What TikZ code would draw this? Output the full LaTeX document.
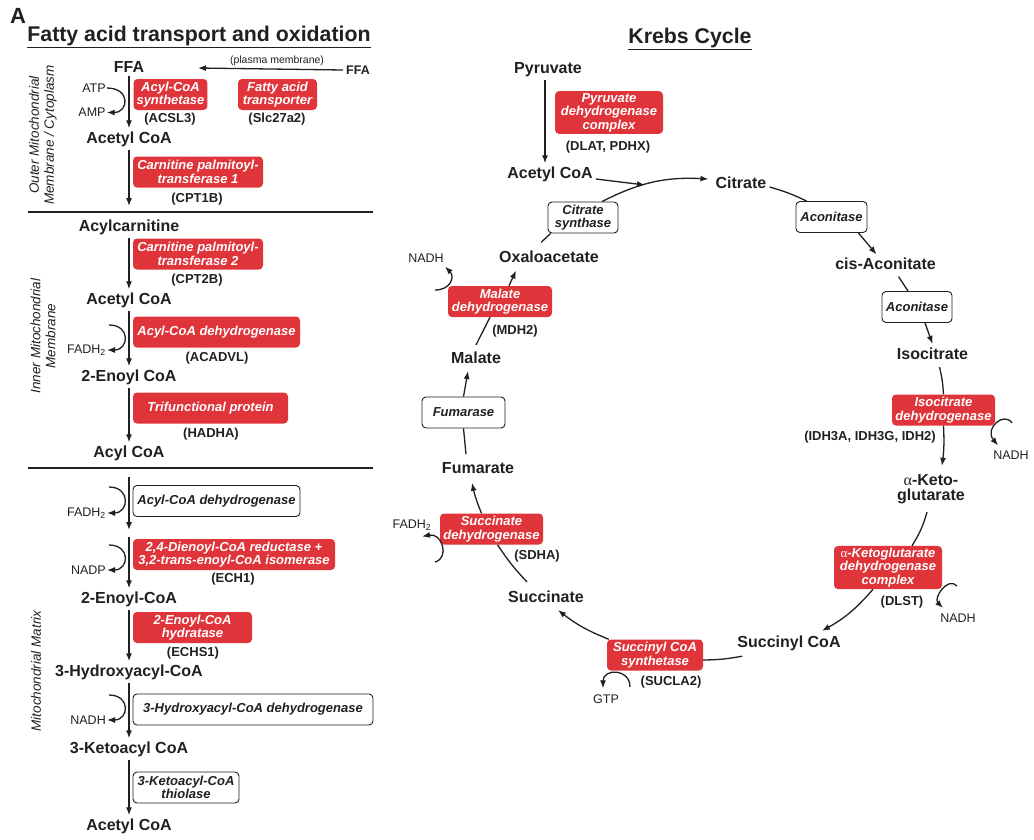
\documentclass[tikz,border=0pt]{standalone}
\usepackage{fontspec}
\setmainfont{Liberation Sans}
\newfontfamily\greekfont{Liberation Serif}
\newcommand{\alphaup}{{\greekfont\mdseries\upshape α}}
\usetikzlibrary{arrows.meta}

\begin{document}
\begin{tikzpicture}[x=1pt,y=-1pt,
    metab/.style={font=\fontsize{16}{15.5}\selectfont\bfseries,text=ink,inner sep=3pt,align=center},
    enz/.style={rounded corners=4pt,font=\fontsize{13}{13.5}\selectfont\bfseries\itshape,align=center,
      inner xsep=3pt,inner ysep=2pt,minimum height=31pt},
    redenz/.style={enz,fill=enzred,text=white},
    whiteenz/.style={enz,draw=ink,line width=0.9pt,fill=white,text=ink},
    gene/.style={font=\fontsize{13}{13}\selectfont\bfseries,text=ink,inner sep=1pt},
    cofac/.style={font=\fontsize{12.5}{12.5}\selectfont,text=ink,inner sep=1pt},
    region/.style={font=\fontsize{13.5}{15}\selectfont\itshape,text=ink,rotate=90,align=center},
    heading/.style={font=\fontsize{21.3}{22}\selectfont\bfseries,text=ink,inner sep=0pt},
    link/.style={draw=ink,line width=1.3pt},
    rxn/.style={link,-{Latex[length=8pt,width=6pt]}},
    sep/.style={draw=ink,line width=2.4pt},
  ]
  \definecolor{ink}{RGB}{35,31,32}
  \definecolor{enzred}{RGB}{222,52,58}
  \useasboundingbox (0,0) rectangle (1034,839);

  % headings
  \node[heading,font=\fontsize{22}{22}\selectfont\bfseries] (panel) at (18,16) {A};
  \node[heading] (fatitle) at (199,37) {\underline{Fatty acid transport and oxidation}};
  \node[heading] (krtitle) at (690,38.5) {\underline{Krebs Cycle}};

  % ---- fatty acid transport, outer membrane
  \node[metab] (ffa1) at (129,67) {FFA};
  \node[metab,font=\fontsize{12.5}{12.5}\selectfont\bfseries] (ffa2) at (358,70) {FFA};
  \node[cofac,font=\fontsize{10.5}{10.5}\selectfont] (pm) at (277,61) {(plasma membrane)};
  \coordinate (ffaend) at (198,68);
  \draw[rxn] (ffa2.west) -- (ffaend);

  \node[metab] (acoa1) at (129,139) {Acetyl CoA};
  \draw[rxn] (ffa1) -- (acoa1);
  \node[cofac] (atp) at (94,88) {ATP};
  \node[cofac] (amp) at (92,112.5) {AMP};
  \draw[rxn] (atp.east) .. controls +(24,0) and +(22,0) .. (amp.east);
  \node[redenz,minimum width=73pt] (acsl) at (170.5,94.5) {Acyl-CoA\\synthetase};
  \node[gene] (acsl3) at (170,119) {(ACSL3)};
  \node[redenz,minimum width=79pt] (fatp) at (277.5,94.5) {Fatty acid\\transporter};
  \node[gene] (slc) at (277,119) {(Slc27a2)};

  \coordinate (omm) at (129,206);
  \draw[rxn] (acoa1) -- (omm);
  \node[redenz,minimum width=130pt] (cpt1) at (198,172) {Carnitine palmitoyl-\\transferase 1};
  \node[gene] (cpt1b) at (197,199) {(CPT1B)};
  \draw[sep] (28,212) -- (373,212);
  \node[region] (outer) at (43,135) {Outer Mitochondrial\\Membrane / Cytoplasm};

  % ---- inner membrane
  \node[metab] (acylc) at (129,227) {Acylcarnitine};
  \node[metab] (acoa2) at (129,300) {Acetyl CoA};
  \draw[rxn] (acylc) -- (acoa2);
  \node[redenz,minimum width=130pt] (cpt2) at (198,254) {Carnitine palmitoyl-\\transferase 2};
  \node[gene] (cpt2b) at (197,280) {(CPT2B)};

  \node[metab] (enoyl1) at (129,377) {2-Enoyl CoA};
  \draw[rxn] (acoa2) -- (enoyl1);
  \coordinate (fad1) at (109,325);
  \node[cofac,anchor=east] (fadh1) at (107,350) {FADH\textsubscript{2}};
  \draw[rxn] (fad1) .. controls +(22,0) and +(22,0) .. (fadh1.east);
  \node[redenz,minimum width=167pt] (acad1) at (216.5,332) {Acyl-CoA dehydrogenase};
  \node[gene] (acadvl) at (217,358) {(ACADVL)};

  \node[metab] (acyl) at (129,453) {Acyl CoA};
  \draw[rxn] (enoyl1) -- (acyl);
  \node[redenz,minimum width=155pt] (tfp) at (210.5,408) {Trifunctional protein};
  \node[gene] (hadha) at (211,434) {(HADHA)};
  \draw[sep] (28,468) -- (373,468);
  \node[region] (inner) at (43,336) {Inner Mitochondrial\\Membrane};

  % ---- matrix
  \coordinate (imm) at (129,477);
  \coordinate (dien) at (129,530);
  \coordinate (dienb) at (129,537);
  \draw[rxn] (imm) -- (dien);
  \coordinate (fad2) at (109,487);
  \node[cofac,anchor=east] (fadh2) at (107,513) {FADH\textsubscript{2}};
  \draw[rxn] (fad2) .. controls +(22,0) and +(22,0) .. (fadh2.east);
  \node[whiteenz,minimum width=167pt] (acad2) at (216.5,501) {Acyl-CoA dehydrogenase};

  \node[metab] (enoyl2) at (129,599) {2-Enoyl-CoA};
  \draw[rxn] (dienb) -- (enoyl2);
  \coordinate (nadp1) at (109,545);
  \node[cofac,anchor=east] (nadp) at (107,570) {NADP};
  \draw[rxn] (nadp1) .. controls +(22,0) and +(22,0) .. (nadp.east);
  \node[redenz,minimum width=202pt] (decr) at (234,554.5) {2,4-Dienoyl-CoA reductase +\\3,2-trans-enoyl-CoA isomerase};
  \node[gene] (ech1) at (233,579) {(ECH1)};

  \node[metab] (hydroxy) at (129,672) {3-Hydroxyacyl-CoA};
  \draw[rxn] (enoyl2) -- (hydroxy);
  \node[redenz,minimum width=119pt] (echs) at (192.5,627.5) {2-Enoyl-CoA\\hydratase};
  \node[gene] (echs1) at (193,653) {(ECHS1)};

  \node[metab] (keto) at (129,749) {3-Ketoacyl CoA};
  \draw[rxn] (hydroxy) -- (keto);
  \coordinate (nad1) at (109,695);
  \node[cofac,anchor=east] (nadh1) at (107,720) {NADH};
  \draw[rxn] (nad1) .. controls +(22,0) and +(22,0) .. (nadh1.east);
  \node[whiteenz,minimum width=240pt] (hadh) at (253,709.5) {3-Hydroxyacyl-CoA dehydrogenase};

  \node[metab] (acoa3) at (129,826) {Acetyl CoA};
  \draw[rxn] (keto) -- (acoa3);
  \node[whiteenz,minimum width=106pt] (thiol) at (186,787.5) {3-Ketoacyl-CoA\\thiolase};
  \node[region] (matrix) at (36,671) {Mitochondrial Matrix};

  % ---- Krebs cycle
  \node[metab] (pyr) at (548,70) {Pyruvate};
  \node[metab] (acoa4) at (550,174) {Acetyl CoA};
  \draw[rxn] ([xshift=-3pt]pyr.south) -- ([xshift=-5pt]acoa4.north);
  \node[redenz,minimum width=108pt] (pdh) at (609,112.5) {Pyruvate\\dehydrogenase\\complex};
  \node[gene] (dlat) at (608,147.5) {(DLAT, PDHX)};

  \node[metab] (cit) at (741,183) {Citrate};
  \node[whiteenz,minimum width=70pt] (cs) at (583,217.5) {Citrate\\synthase};
  \node[metab] (oaa) at (549,256.5) {Oxaloacetate};
  \coordinate (join) at (645,185);
  \draw[rxn] ([yshift=-5pt]acoa4.east) -- (join);
  \draw[link] ([xshift=-8pt,yshift=5pt]oaa.north) -- ([xshift=3pt]cs.south west);
  \draw[rxn] ([xshift=19pt]cs.north) to[bend left=15] ([xshift=-4pt,yshift=4pt]cit.west);

  \node[whiteenz,minimum width=71pt] (aco1) at (831.5,217) {Aconitase};
  \node[metab] (cisaco) at (885.5,263.5) {cis-Aconitate};
  \draw[link] ([yshift=-4pt]cit.east) to[bend left=5] ([xshift=11pt]aco1.north west);
  \draw[rxn] ([xshift=-9pt]aco1.south east) -- ([xshift=-9pt]cisaco.north);

  \node[whiteenz,minimum width=70pt] (aco2) at (917,307) {Aconitase};
  \node[metab] (isocit) at (932.5,354) {Isocitrate};
  \draw[link] ([xshift=13pt,yshift=-4pt]cisaco.south) -- ([xshift=-9pt]aco2.north);
  \draw[rxn] ([xshift=8pt]aco2.south) -- ([yshift=1pt]isocit.north);

  \node[redenz,minimum width=103pt] (idh) at (943.5,410) {Isocitrate\\dehydrogenase};
  \node[gene] (idhg) at (870,437.5) {(IDH3A, IDH3G, IDH2)};
  \node[metab] (akg) at (931,489) {\alphaup-Keto-\\glutarate};
  \draw[link] ([xshift=7pt,yshift=-4pt]isocit.south) to[bend left=5] (idh.north);
  \draw[rxn] (idh.south) to[bend left=5] ([xshift=11pt,yshift=5pt]akg.north);
  \node[cofac] (nadhi) at (1011,455) {NADH};
  \coordinate (idhnad) at (1012,423);
  \draw[rxn] (idhnad) .. controls +(-8,-12) and +(-14,-17) .. ([xshift=6pt,yshift=4pt]nadhi.north west);

  \node[redenz,minimum width=108pt] (akgdh) at (888,567.5) {\alphaup-Ketoglutarate\\dehydrogenase\\complex};
  \node[gene] (dlst) at (902,602) {(DLST)};
  \node[metab] (succoa) at (789,643.5) {Succinyl CoA};
  \draw[link] ([xshift=-4pt,yshift=-5pt]akg.south) to[bend left=8] ([xshift=24pt]akgdh.north);
  \draw[rxn] ([xshift=-15pt]akgdh.south) to[bend left=10] ([xshift=33pt,yshift=2pt]succoa.north);
  \node[cofac] (nadhk) at (958,618) {NADH};
  \coordinate (akgnad) at (957,586);
  \draw[rxn] (akgnad) .. controls +(-9,-10) and +(-10,-10) .. ([xshift=4pt,yshift=4.5pt]nadhk.north west);

  \node[redenz,minimum width=96pt] (scs) at (655,655) {Succinyl CoA\\synthetase};
  \node[gene] (sucla) at (671,682) {(SUCLA2)};
  \draw[link] ([xshift=8pt,yshift=-2pt]succoa.south west) to[bend left=5] ([yshift=-5pt]scs.east);
  \node[cofac] (gtp) at (606,699) {GTP};
  \coordinate (scsgtp) at (630,687);
  \draw[rxn] (scsgtp) .. controls +(0,-19) and +(0,-20) .. ([xshift=-3pt,yshift=5pt]gtp.north);

  \node[metab] (succ) at (546,597) {Succinate};
  \draw[rxn] ([xshift=2pt]scs.north west) to[bend left=8] ([xshift=12pt,yshift=-4pt]succ.south);
  \node[redenz,minimum width=103pt] (sdh) at (491.5,529) {Succinate\\dehydrogenase};
  \node[gene] (sdha) at (537,556) {(SDHA)};
  \draw[link] ([xshift=-19pt,yshift=6pt]succ.north) to[bend left=5] ([xshift=6pt]sdh.south);
  \node[cofac] (fadhs) at (412,525) {FADH\textsubscript{2}};
  \coordinate (sdhfad) at (435,562);
  \draw[rxn] (sdhfad) .. controls +(15,-4) and +(20,-4) .. ([xshift=10pt,yshift=-5pt]fadhs.south);

  \node[metab] (fum) at (478,468) {Fumarate};
  \draw[rxn] ([xshift=-10pt]sdh.north) to[bend left=5] ([xshift=-6pt,yshift=-6pt]fum.south);
  \node[whiteenz,minimum width=83pt] (fumase) at (463.5,412.5) {Fumarase};
  \draw[link] ([xshift=-12pt,yshift=5pt]fum.north) -- (fumase.south);
  \node[metab] (mal) at (476,358) {Malate};
  \draw[rxn] (fumase.north) -- ([xshift=-8pt,yshift=-4pt]mal.south);

  \node[redenz,minimum width=104pt] (mdh) at (500,301.5) {Malate\\dehydrogenase};
  \node[gene] (mdh2) at (515,331) {(MDH2)};
  \draw[link] ([yshift=4pt]mal.north) -- ([xshift=-10pt]mdh.south);
  \draw[rxn] ([xshift=9pt]mdh.north) -- ([xshift=-33pt,yshift=-5pt]oaa.south);
  \node[cofac] (nadhm) at (426,258) {NADH};
  \coordinate (mdhnad) at (435,290);
  \draw[rxn] (mdhnad) .. controls +(16,0) and +(10,10) .. ([yshift=-3pt]nadhm.south east);
\end{tikzpicture}
\end{document}
